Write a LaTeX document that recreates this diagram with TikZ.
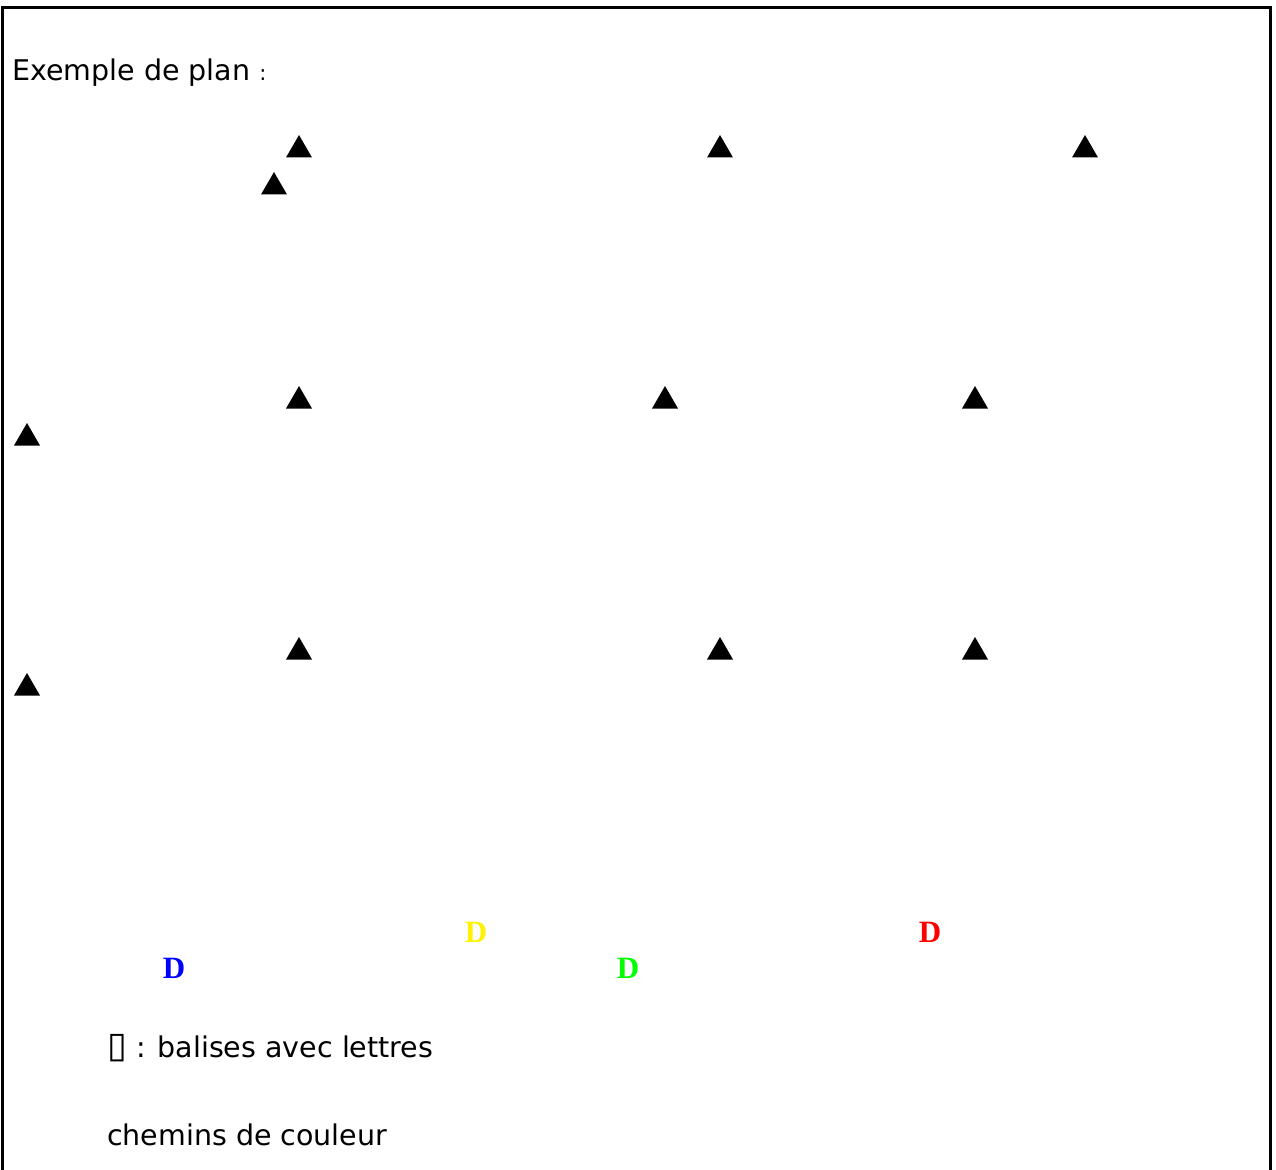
\documentclass[tikz,border=0pt]{standalone}
\usepackage{fontspec}
\setmainfont{DejaVu Sans}
\newfontfamily\timesfont{Liberation Serif}
\usetikzlibrary{shapes.geometric}

\begin{document}
\begin{tikzpicture}[x=1pt, y=-1pt,
    balise/.style={regular polygon, regular polygon sides=3, fill=black,
      minimum size=30pt, inner sep=0pt, outer sep=0pt},
    depart/.style={anchor=base, inner sep=0pt,
      font=\timesfont\bfseries\fontsize{31}{31}\selectfont},
    legende/.style={anchor=base west, inner sep=0pt,
      font=\fontsize{28.5}{32}\selectfont}]
  \useasboundingbox (0,0) rectangle (1276,1169);

  % 1. Cadre (ouvert en bas)
  \draw[line width=3pt] (2,1200) -- (2,8) -- (1270,8) -- (1270,1200);

  % 2. Titre
  \node[legende] (titre) at (12,81) {Exemple de plan {\fontsize{21}{24}\selectfont :}};

  % 3. Balises (triangles)
  \node[balise] (b11) at (299,150) {};
  \node[balise] (b12) at (720,150) {};
  \node[balise] (b13) at (1085,150) {};
  \node[balise] (b14) at (274,187) {};

  \node[balise] (b21) at (299,401) {};
  \node[balise] (b22) at (665,401) {};
  \node[balise] (b23) at (975,401) {};
  \node[balise] (b24) at (27,438) {};

  \node[balise] (b31) at (299,652) {};
  \node[balise] (b32) at (720,652) {};
  \node[balise] (b33) at (975,652) {};
  \node[balise] (b34) at (27,688) {};

  % 4. Departs des chemins de couleur
  \node[depart, text=yellow] (dJaune) at (476,942) {D};
  \node[depart, text=red]    (dRouge) at (930,942) {D};
  \node[depart, text=blue]   (dBleu)  at (174,978) {D};
  \node[depart, text=green]  (dVert)  at (628,978) {D};

  % 5. Legende
  \node[legende] (leg1) at (107,1057) {{\fontsize{36}{36}\selectfont ▯} : balises avec lettres};
  \node[legende] (leg2) at (107,1145) {chemins de couleur};
\end{tikzpicture}
\end{document}
